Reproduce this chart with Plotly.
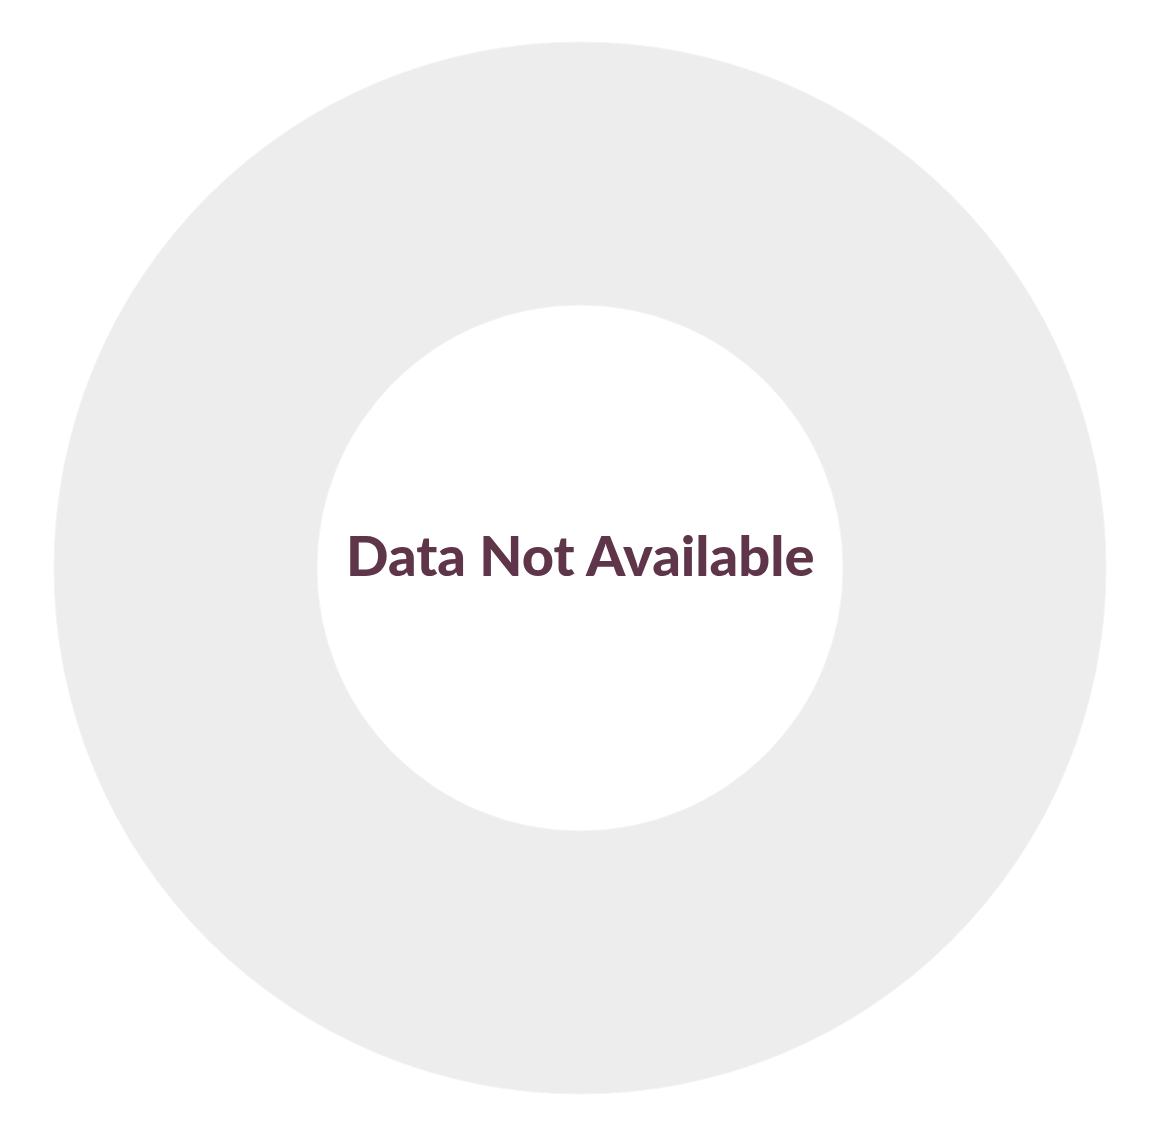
import plotly.graph_objects as go

# placeholder donut - no data, one grey slice
labels = ["No data"]
values = [1]
message = "Data Not Available"

fig = go.Figure()
fig.add_trace(go.Pie(
    labels=labels,
    values=values,
    hole=0.5,
    sort=False,
    direction="clockwise",
    textinfo="none",
    hoverinfo="none",
    marker=dict(colors=["#ededed"], line=dict(color="#f4f4f4", width=1)),
))

fig.add_annotation(
    text=message,
    x=0.5, y=0.5, xref="paper", yref="paper",
    yshift=14,
    showarrow=False,
    font=dict(family="Lato", size=56, color="#5f3549", weight=900),
)

# page body adds 8px, so margins are offset to keep the ring where it was
fig.update_layout(
    width=1164, height=1134,
    showlegend=False,
    paper_bgcolor="white",
    plot_bgcolor="white",
    margin=dict(l=46, r=66, t=34, b=48),
)

fig.write_html("out.html")
